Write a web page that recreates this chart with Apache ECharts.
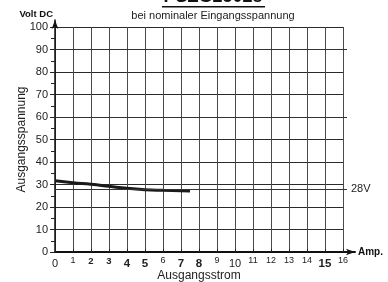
<!DOCTYPE html>
<html>
<head>
<meta charset="utf-8">
<script src="https://cdn.jsdelivr.net/npm/echarts@6/dist/echarts.min.js"></script>
<style>
  html, body { margin: 0; padding: 0; background: #fff; }
  #chart { width: 388px; height: 282px; }
</style>
</head>
<body>
<div id="chart"></div>
<script>
// Ausgangsstrom (A) und Ausgangsspannung (V)
var stromWerte = [0, 1, 2, 3, 4, 5, 6, 7, 7.5];
var spannungWerte = [31.7, 30.8, 30.1, 29.2, 28.3, 27.7, 27.4, 27.2, 27.1];
// Linien, die über das Raster hinausgehen
var extraLinien = [90, 60, 28];
var nennSpannung = 28;
// Stil der x-Beschriftungen
var xLabelStil = ['n', 's', 'm', 'm', 'b', 'b', 's', 'b', 'b', 's', 'n', 's', 's', 's', 's', 'b', 's'];

var font = 'Liberation Sans, Arial, sans-serif';
var linePts = stromWerte.map(function (x, i) { return [x, spannungWerte[i]]; });

var chart = echarts.init(document.getElementById('chart'));

var option = {
  animation: false,
  backgroundColor: '#fff',
  textStyle: { fontFamily: font },
  graphic: [
    { type: 'text', x: 213, y: 6, style: { text: 'PSZG25028', font: 'bold 18px ' + font, fill: '#111', align: 'center', verticalAlign: 'bottom' } },
    { type: 'rect', shape: { x: 162, y: 6, width: 103, height: 1.5 }, style: { fill: '#111' } },
    { type: 'text', x: 213, y: 16, style: { text: 'bei nominaler Eingangsspannung', font: '11px ' + font, fill: '#222', align: 'center', verticalAlign: 'middle' } }
  ],
  grid: [
    { left: 55, right: 45, top: 27, bottom: 30, outerBoundsMode: 'none' },
    { left: 55, right: 33, top: 20, bottom: 30, outerBoundsMode: 'none' },
    { left: 55, right: 41, top: 27, bottom: 30, outerBoundsMode: 'none' }
  ],
  xAxis: [
    {
      gridIndex: 0, type: 'value', min: 0, max: 16, interval: 1,
      axisLine: { show: false },
      axisTick: { show: true, length: 3, inside: true, lineStyle: { color: '#222' } },
      splitLine: { show: true, lineStyle: { color: '#4a4a4a', width: 1 } },
      axisLabel: {
        margin: 3, color: '#222', verticalAlign: 'top',
        formatter: function (v) { return '{' + xLabelStil[v] + '|' + v + '}'; },
        rich: {
          n: { fontSize: 11, verticalAlign: 'top', padding: [3, 0, 0, 0] },
          s: { fontSize: 9, verticalAlign: 'top', padding: [1, 0, 0, 0] },
          m: { fontSize: 9.5, fontWeight: 'bold', verticalAlign: 'top', padding: [1, 0, 0, 0] },
          b: { fontSize: 11.5, fontWeight: 'bold', verticalAlign: 'top', padding: [3, 0, 0, 0] }
        }
      },
      name: 'Ausgangsstrom', nameLocation: 'middle', nameGap: 18, nameMoveOverlap: false,
      nameTextStyle: { fontSize: 12, color: '#222' }
    },
    {
      gridIndex: 1, type: 'value', min: 0, max: 1,
      axisLine: { show: true, symbol: ['none', 'arrow'], symbolSize: [5, 9], lineStyle: { color: '#111', width: 2 } },
      axisTick: { show: false }, axisLabel: { show: false }, splitLine: { show: false },
      name: 'Amp.', nameLocation: 'end', nameGap: 3,
      nameTextStyle: { fontSize: 10, fontWeight: 'bold', color: '#111' }
    },
    {
      gridIndex: 2, type: 'value', min: 0, max: 1, show: false
    }
  ],
  yAxis: [
    {
      gridIndex: 0, type: 'value', min: 0, max: 100, interval: 10,
      axisLine: { show: false },
      axisTick: { show: true, length: 5, lineStyle: { color: '#222' } },
      minorTick: { show: true, splitNumber: 2, length: 4, lineStyle: { color: '#222' } },
      splitLine: { show: true, lineStyle: { color: '#2a2a2a', width: 1 } },
      axisLabel: { margin: 7, fontSize: 11, color: '#222' },
      name: 'Ausgangsspannung', nameLocation: 'middle', nameGap: 27, nameMoveOverlap: false,
      nameTextStyle: { fontSize: 12, color: '#222' }
    },
    {
      gridIndex: 1, type: 'value', min: 0, max: 1,
      axisLine: { show: true, symbol: ['none', 'arrow'], symbolSize: [5, 9], lineStyle: { color: '#111', width: 1.5 } },
      axisTick: { show: false }, axisLabel: { show: false }, splitLine: { show: false },
      name: 'Volt DC', nameLocation: 'end', nameGap: 1,
      nameTextStyle: { fontSize: 9.5, fontWeight: 'bold', color: '#111', align: 'right', padding: [0, 2, 0, 0] }
    },
    {
      gridIndex: 2, type: 'value', min: 0, max: 100, show: false
    }
  ],
  series: [
    {
      type: 'line', xAxisIndex: 2, yAxisIndex: 2, data: [],
      markLine: {
        silent: true, symbol: 'none',
        lineStyle: { color: '#333', width: 1, type: 'solid' },
        data: extraLinien.map(function (v) {
          return [
            { coord: [0, v], label: { show: v === nennSpannung } },
            { coord: [1, v] }
          ];
        }),
        label: {
          position: 'end', distance: 4, fontSize: 11, color: '#222',
          formatter: function () { return nennSpannung + 'V'; }
        }
      }
    },
    {
      type: 'line', xAxisIndex: 0, yAxisIndex: 0,
      data: linePts, smooth: true, showSymbol: false,
      lineStyle: { color: '#1a1a1a', width: 3 }
    }
  ]
};

chart.setOption(option);
</script>
</body>
</html>
